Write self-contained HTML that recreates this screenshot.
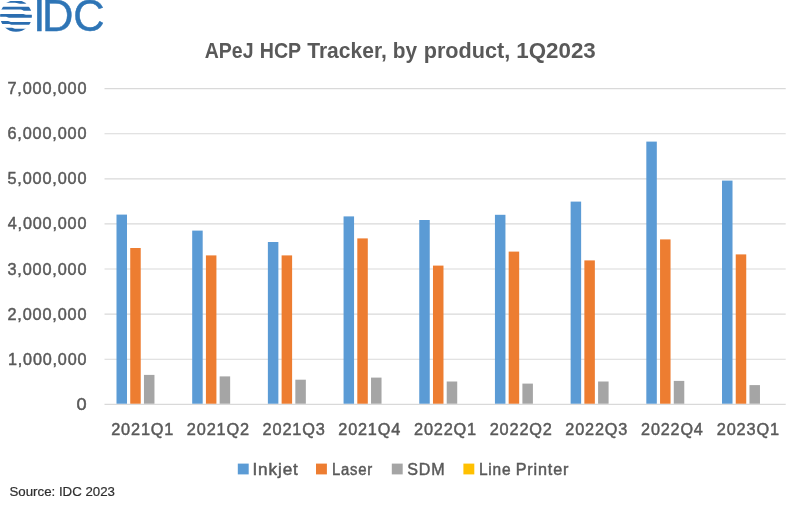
<!DOCTYPE html>
<html><head><meta charset="utf-8"><title>APeJ HCP Tracker, by product, 1Q2023</title>
<style>
html,body{margin:0;padding:0;background:#fff;}
body{width:800px;height:508px;overflow:hidden;position:relative;font-family:"Liberation Sans",sans-serif;}
svg{position:absolute;left:0;top:0;display:block}
text{font-family:"Liberation Sans",sans-serif;}
.ax{font-size:15.6px;letter-spacing:0.8px;fill:#595959;stroke:#595959;stroke-width:0.45px}
.ttl{font-size:21.6px;font-weight:bold;fill:#595959}
.src{font-size:13px;fill:#2e2e2e;stroke:#2e2e2e;stroke-width:0.2px}
</style></head><body>
<svg width="800" height="508" viewBox="0 0 800 508">

<line x1="104.5" x2="785.7" y1="404.30" y2="404.30" stroke="#d9d9d9" stroke-width="1.15"/>
<line x1="104.5" x2="785.7" y1="359.21" y2="359.21" stroke="#d9d9d9" stroke-width="1.15"/>
<line x1="104.5" x2="785.7" y1="314.12" y2="314.12" stroke="#d9d9d9" stroke-width="1.15"/>
<line x1="104.5" x2="785.7" y1="269.03" y2="269.03" stroke="#d9d9d9" stroke-width="1.15"/>
<line x1="104.5" x2="785.7" y1="223.94" y2="223.94" stroke="#d9d9d9" stroke-width="1.15"/>
<line x1="104.5" x2="785.7" y1="178.85" y2="178.85" stroke="#d9d9d9" stroke-width="1.15"/>
<line x1="104.5" x2="785.7" y1="133.76" y2="133.76" stroke="#d9d9d9" stroke-width="1.15"/>
<line x1="104.5" x2="785.7" y1="88.67" y2="88.67" stroke="#d9d9d9" stroke-width="1.15"/>
<rect x="116.50" y="214.60" width="10.5" height="189.10" fill="#5b9bd5"/>
<rect x="130.23" y="248.00" width="10.5" height="155.70" fill="#ed7d31"/>
<rect x="143.96" y="374.90" width="10.5" height="28.80" fill="#a5a5a5"/>
<rect x="192.19" y="230.60" width="10.5" height="173.10" fill="#5b9bd5"/>
<rect x="205.92" y="255.40" width="10.5" height="148.30" fill="#ed7d31"/>
<rect x="219.65" y="376.40" width="10.5" height="27.30" fill="#a5a5a5"/>
<rect x="267.87" y="242.00" width="10.5" height="161.70" fill="#5b9bd5"/>
<rect x="281.61" y="255.40" width="10.5" height="148.30" fill="#ed7d31"/>
<rect x="295.34" y="379.70" width="10.5" height="24.00" fill="#a5a5a5"/>
<rect x="343.56" y="216.40" width="10.5" height="187.30" fill="#5b9bd5"/>
<rect x="357.30" y="238.40" width="10.5" height="165.30" fill="#ed7d31"/>
<rect x="371.03" y="377.60" width="10.5" height="26.10" fill="#a5a5a5"/>
<rect x="419.25" y="220.00" width="10.5" height="183.70" fill="#5b9bd5"/>
<rect x="432.98" y="265.60" width="10.5" height="138.10" fill="#ed7d31"/>
<rect x="446.72" y="381.50" width="10.5" height="22.20" fill="#a5a5a5"/>
<rect x="494.94" y="214.80" width="10.5" height="188.90" fill="#5b9bd5"/>
<rect x="508.67" y="251.60" width="10.5" height="152.10" fill="#ed7d31"/>
<rect x="522.40" y="383.60" width="10.5" height="20.10" fill="#a5a5a5"/>
<rect x="570.63" y="201.60" width="10.5" height="202.10" fill="#5b9bd5"/>
<rect x="584.36" y="260.40" width="10.5" height="143.30" fill="#ed7d31"/>
<rect x="598.09" y="381.50" width="10.5" height="22.20" fill="#a5a5a5"/>
<rect x="646.32" y="141.60" width="10.5" height="262.10" fill="#5b9bd5"/>
<rect x="660.05" y="239.40" width="10.5" height="164.30" fill="#ed7d31"/>
<rect x="673.78" y="380.90" width="10.5" height="22.80" fill="#a5a5a5"/>
<rect x="722.01" y="180.60" width="10.5" height="223.10" fill="#5b9bd5"/>
<rect x="735.74" y="254.40" width="10.5" height="149.30" fill="#ed7d31"/>
<rect x="749.47" y="385.10" width="10.5" height="18.60" fill="#a5a5a5"/>
<rect x="237.8" y="463.6" width="10.9" height="10.8" fill="#5b9bd5"/>
<rect x="316.0" y="463.6" width="10.9" height="10.8" fill="#ed7d31"/>
<rect x="391.8" y="463.6" width="10.9" height="10.8" fill="#a5a5a5"/>
<rect x="463.4" y="463.6" width="10.9" height="10.8" fill="#ffc000"/>
<text id="y0" class="ax" x="76.44" y="409.80" textLength="11.04" lengthAdjust="spacingAndGlyphs">0</text>
<text id="y1" class="ax" x="7.97" y="364.71" textLength="79.31" lengthAdjust="spacingAndGlyphs">1,000,000</text>
<text id="y2" class="ax" x="7.49" y="319.62" textLength="79.79" lengthAdjust="spacingAndGlyphs">2,000,000</text>
<text id="y3" class="ax" x="7.49" y="274.53" textLength="79.79" lengthAdjust="spacingAndGlyphs">3,000,000</text>
<text id="y4" class="ax" x="7.75" y="229.44" textLength="79.53" lengthAdjust="spacingAndGlyphs">4,000,000</text>
<text id="y5" class="ax" x="7.49" y="184.35" textLength="79.79" lengthAdjust="spacingAndGlyphs">5,000,000</text>
<text id="y6" class="ax" x="7.49" y="139.26" textLength="79.79" lengthAdjust="spacingAndGlyphs">6,000,000</text>
<text id="y7" class="ax" x="7.49" y="94.17" textLength="79.79" lengthAdjust="spacingAndGlyphs">7,000,000</text>
<text id="x0" class="ax" x="111.20" y="434.90" textLength="63.07" lengthAdjust="spacingAndGlyphs">2021Q1</text>
<text id="x1" class="ax" x="186.89" y="434.90" textLength="63.06" lengthAdjust="spacingAndGlyphs">2021Q2</text>
<text id="x2" class="ax" x="262.59" y="434.90" textLength="63.06" lengthAdjust="spacingAndGlyphs">2021Q3</text>
<text id="x3" class="ax" x="338.28" y="434.90" textLength="62.80" lengthAdjust="spacingAndGlyphs">2021Q4</text>
<text id="x4" class="ax" x="413.98" y="434.90" textLength="63.07" lengthAdjust="spacingAndGlyphs">2022Q1</text>
<text id="x5" class="ax" x="489.68" y="434.90" textLength="63.06" lengthAdjust="spacingAndGlyphs">2022Q2</text>
<text id="x6" class="ax" x="565.38" y="434.90" textLength="62.80" lengthAdjust="spacingAndGlyphs">2022Q3</text>
<text id="x7" class="ax" x="641.08" y="434.90" textLength="62.54" lengthAdjust="spacingAndGlyphs">2022Q4</text>
<text id="x8" class="ax" x="716.76" y="434.90" textLength="63.07" lengthAdjust="spacingAndGlyphs">2023Q1</text>
<text class="ttl" y="58.10"><tspan id="t0" x="204.73" textLength="48.82" lengthAdjust="spacingAndGlyphs">APeJ</tspan> <tspan id="t1" x="259.71" textLength="41.10" lengthAdjust="spacingAndGlyphs">HCP</tspan> <tspan id="t2" x="307.25" textLength="79.54" lengthAdjust="spacingAndGlyphs">Tracker,</tspan> <tspan id="t3" x="392.66" textLength="24.35" lengthAdjust="spacingAndGlyphs">by</tspan> <tspan id="t4" x="423.69" textLength="86.59" lengthAdjust="spacingAndGlyphs">product,</tspan> <tspan id="t5" x="516.22" textLength="79.55" lengthAdjust="spacingAndGlyphs">1Q2023</tspan></text>
<text id="l0" class="ax" x="252.43" y="474.70" textLength="46.35" lengthAdjust="spacingAndGlyphs">Inkjet</text>
<text id="l1" class="ax" x="331.96" y="474.70" textLength="41.09" lengthAdjust="spacingAndGlyphs">Laser</text>
<text id="l2" class="ax" x="407.22" y="474.70" textLength="38.15" lengthAdjust="spacingAndGlyphs">SDM</text>
<text class="ax" y="474.70"><tspan id="l3" x="478.92" textLength="32.43" lengthAdjust="spacingAndGlyphs">Line</tspan> <tspan id="l4" x="515.71" textLength="53.56" lengthAdjust="spacingAndGlyphs">Printer</tspan></text>
<text id="src" class="src" x="9.50" y="496.20" textLength="105.51" lengthAdjust="spacingAndGlyphs">Source: IDC 2023</text>
<defs><clipPath id="gc"><circle cx="16" cy="15.9" r="15.9"/></clipPath></defs>
<g clip-path="url(#gc)" fill="#2a6db0">
<path d="M0,0.9 H32 V3.7 H20 C18,3.7 17.5,2.7 15,2.7 H0 Z"/>
<path d="M0,6.7 H32 V10.7 H24 C22.5,10.7 22.5,9.5 20.5,9.5 H0 Z"/>
<path d="M0,14 H22 C24,14 24.5,14.7 26,14.7 H32 V17.7 H9 C7.5,17.7 7.5,16.8 6,16.8 H0 Z"/>
<path d="M0,21 H8 C9.5,21 9.5,22 11,22 H32 V24.8 H11.5 C10,24.8 10,24.1 8.5,24.1 H0 Z"/>
<path d="M0,27.8 H12 C13.5,27.8 13.5,28.8 15,28.8 H32 V32 H0 Z"/>
</g>
<text id="idc" x="33.18 41.91 73.14" y="31.3" font-size="43.5" fill="#2e75b6" stroke="#2e75b6" stroke-width="0.45">IDC</text>

</svg></body></html>
